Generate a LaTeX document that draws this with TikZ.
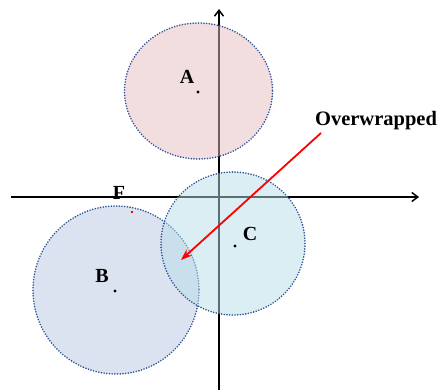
\documentclass[tikz,border=0pt]{standalone}
\usepackage{fontspec}
\setmainfont{Liberation Serif}
\usetikzlibrary{arrows.meta}
\definecolor{fillA}{RGB}{229,189,189}
\definecolor{fillB}{RGB}{183,200,226}
\definecolor{fillC}{RGB}{183,221,232}
\definecolor{ringblue}{RGB}{47,84,150}
\tikzset{
  axis/.style={line width=1.5pt,-{Straight Barb[length=6pt,width=9pt]}},
  ring/.style={draw=ringblue,line width=1.8pt,dash pattern=on 0pt off 2.7pt,line cap=round,fill opacity=0.5},
  lbl/.style={font=\bfseries\fontsize{20}{22}\selectfont,inner sep=0pt},
  ctr/.style={fill=black,circle,inner sep=0pt,minimum size=3.4pt}
}
\begin{document}
\begin{tikzpicture}[x=1pt,y=-1pt]
\useasboundingbox (0,0) rectangle (437,390);
\coordinate (ybot) at (219,390);
\coordinate (ytop) at (219,9);
\coordinate (xl) at (11,197);
\coordinate (xr) at (419,197);
\draw[axis] (ybot) -- (ytop);
\draw[axis] (xl) -- (xr);
\path[ring,fill=fillA] (198.5,91) ellipse [x radius=74, y radius=68];
\path[ring,fill=fillB] (116,290) ellipse [x radius=83, y radius=84];
\path[ring,fill=fillC] (233,243.5) ellipse [x radius=72, y radius=71.5];
\node[ctr] (ca) at (198,92) {};
\node[ctr] (cb) at (115,291) {};
\node[ctr] (cc) at (235,246) {};
\node[lbl] (la) at (187,77) {A};
\node[lbl] (lb) at (102,276) {B};
\node[lbl] (lc) at (250,234) {C};
\node[lbl] (lf) at (119,193) {F};
\node[fill=red,inner sep=0pt,minimum size=2.5pt] (fd) at (132,212) {};
\node[lbl,font=\bfseries\fontsize{20.5}{22}\selectfont] (ov) at (376,121) {Overwrapped};
\coordinate (tip) at (181,260);
\draw[red,line width=1.8pt,-{Stealth[length=11pt,width=8pt]}] (321,133) -- (tip);
\end{tikzpicture}
\end{document}
